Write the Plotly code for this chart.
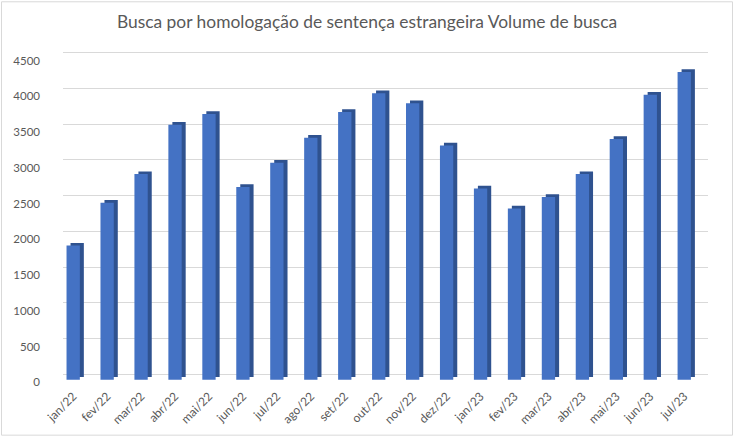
import plotly.graph_objects as go

months = ["jan/22", "fev/22", "mar/22", "abr/22", "mai/22", "jun/22", "jul/22",
          "ago/22", "set/22", "out/22", "nov/22", "dez/22", "jan/23", "fev/23",
          "mar/23", "abr/23", "mai/23", "jun/23", "jul/23"]
volume = [1890, 2490, 2890, 3580, 3730, 2710, 3050, 3400, 3760, 4020,
          3880, 3290, 2690, 2410, 2570, 2890, 3380, 4000, 4320]
y_ticks = [0, 500, 1000, 1500, 2000, 2500, 3000, 3500, 4000, 4500]

title_text = "Busca por homologação de sentença estrangeira Volume de busca"

W, H = 734, 439
ML, MR, MT, MB = 63, 26, 49, 57

FRONT = "#4472C4"
SIDE = "#2F528F"
GRID = "#D9D9D9"
TXT = "#595959"

# pseudo-3D: depth shift of the bars (in axis units)
front_base = -75
depth_up = 38
top_drop = 90
bar_w = 0.392
depth_x = 0.118

fig = go.Figure()
# dark side / top faces (shifted back-right)
fig.add_trace(go.Bar(
    x=months,
    y=[v - top_drop + depth_up - (front_base + depth_up) for v in volume],
    base=front_base + depth_up,
    width=bar_w, offset=-bar_w / 2 + depth_x,
    marker=dict(color=SIDE, line=dict(width=0)),
    hoverinfo="skip", showlegend=False,
))
# front faces
fig.add_trace(go.Bar(
    x=months,
    y=[v - top_drop - front_base for v in volume],
    base=front_base,
    width=bar_w, offset=-bar_w / 2,
    marker=dict(color=FRONT, line=dict(width=0)),
    customdata=volume,
    hovertemplate="%{x}: %{customdata}<extra></extra>",
    showlegend=False,
))

fig.update_layout(
    width=W, height=H,
    margin=dict(l=ML, r=MR, t=MT, b=MB, pad=0),
    paper_bgcolor="white", plot_bgcolor="white",
    barmode="overlay",
    title=dict(text=title_text, x=0.5, xref="container", xanchor="center",
               y=1 - 22 / H, yref="container", yanchor="middle",
               font=dict(family="Lato", size=17.4, color=TXT)),
    xaxis=dict(type="category", range=[-0.30, 18.70], showgrid=False,
               showline=False, zeroline=False, ticks="", tickangle=-45,
               ticklabelstandoff=6,
               tickfont=dict(family="Lato", size=12, color=TXT)),
    yaxis=dict(range=[-80, 4550], tickvals=y_ticks, showgrid=True,
               gridcolor=GRID, gridwidth=1, zeroline=False, showline=False,
               ticks="", ticklabelshift=8, ticklabelstandoff=22,
               tickfont=dict(family="Lato", size=11.5, color=TXT)),
    font=dict(family="Lato", color=TXT),
)

pw = W - ML - MR
ph = H - MT - MB
fig.add_shape(type="rect", xref="paper", yref="paper", layer="above",
              x0=(1.5 - ML) / pw, x1=(732.5 - ML) / pw,
              y0=(H - 437.5 - MB) / ph,
              y1=(H - 1.5 - MB) / ph,
              line=dict(color=GRID, width=1), fillcolor="rgba(0,0,0,0)")

fig.write_html("out.html")
